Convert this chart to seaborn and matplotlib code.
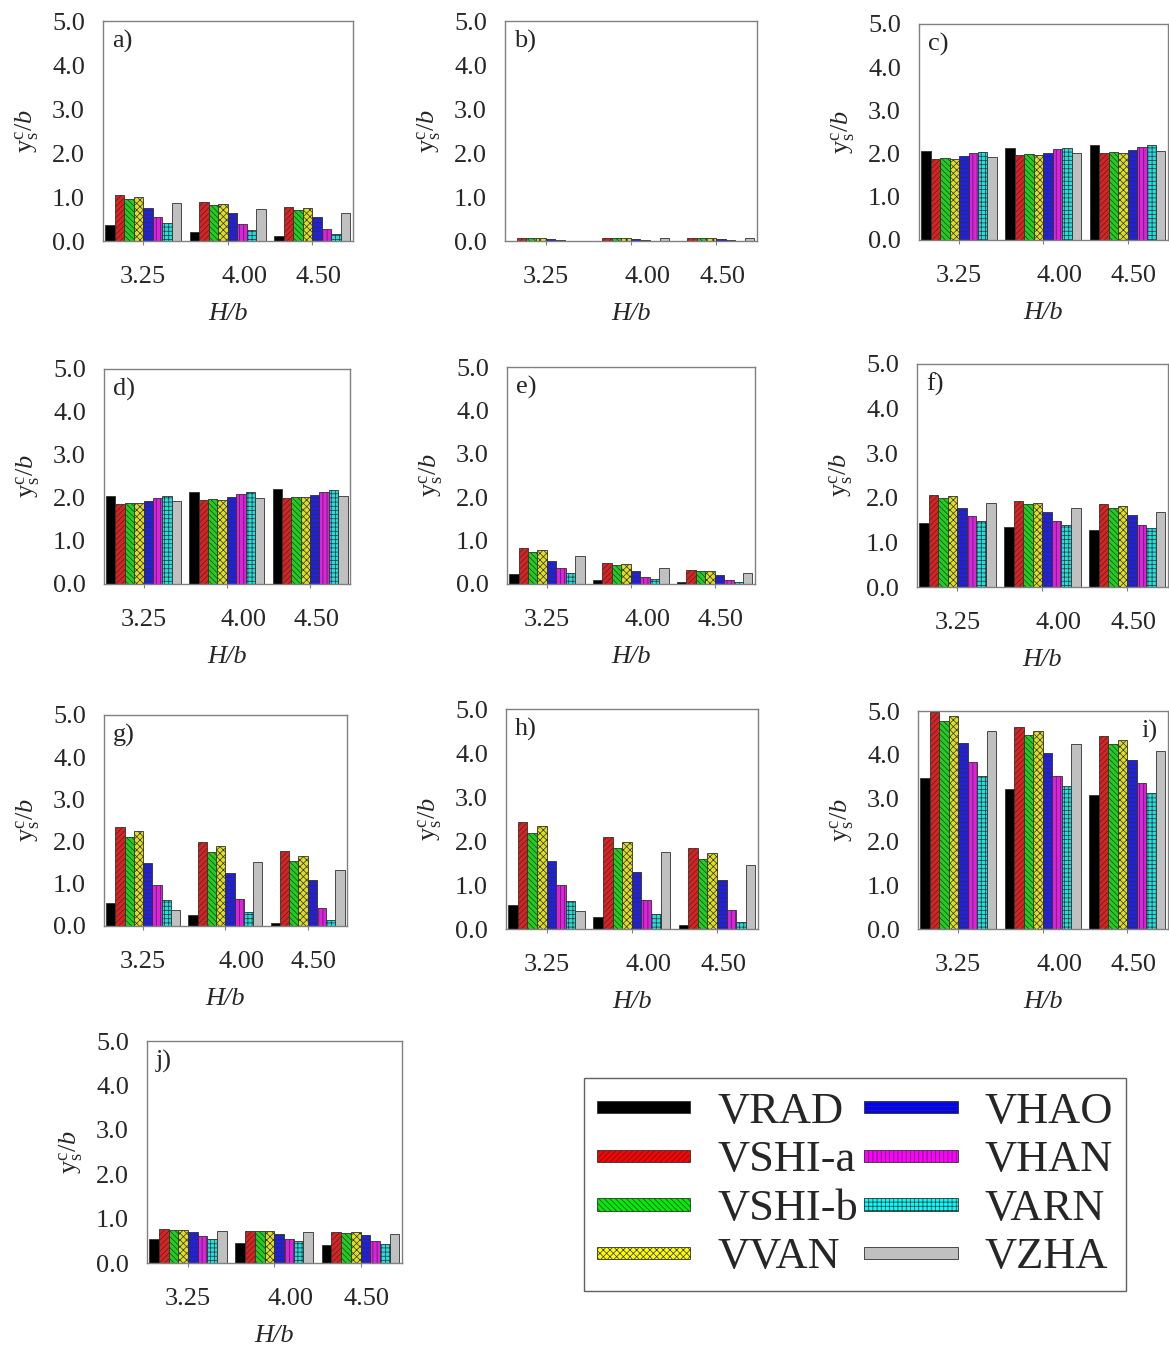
import numpy as np
import pandas as pd
import seaborn as sns
import matplotlib.pyplot as plt
import matplotlib.patches as mpatches
from matplotlib.transforms import ScaledTranslation
from matplotlib.legend_handler import HandlerPatch

# ---- data ----
h_labels = ["3.25", "4.00", "4.50"]
methods = ["VRAD", "VSHI-a", "VSHI-b", "VVAN", "VHAO", "VHAN", "VARN", "VZHA"]

# each row = one H/b group, columns follow the methods order
val_a = [[0.36, 1.04, 0.96, 1.00, 0.75, 0.55, 0.40, 0.87],
         [0.21, 0.88, 0.81, 0.85, 0.63, 0.38, 0.24, 0.72],
         [0.11, 0.78, 0.71, 0.75, 0.55, 0.27, 0.15, 0.64]]
val_b = [[0.01, 0.06, 0.06, 0.06, 0.04, 0.02, 0.01, 0.01],
         [0.01, 0.07, 0.06, 0.06, 0.04, 0.02, 0.01, 0.07],
         [0.01, 0.07, 0.06, 0.06, 0.04, 0.02, 0.01, 0.07]]
val_c = [[2.05, 1.87, 1.89, 1.88, 1.94, 2.01, 2.04, 1.91],
         [2.14, 1.96, 1.98, 1.97, 2.02, 2.11, 2.14, 2.01],
         [2.20, 2.01, 2.03, 2.01, 2.08, 2.15, 2.19, 2.05]]
val_d = [[2.05, 1.87, 1.89, 1.88, 1.94, 2.00, 2.04, 1.92],
         [2.14, 1.96, 1.98, 1.96, 2.03, 2.09, 2.14, 2.00],
         [2.20, 2.01, 2.03, 2.02, 2.07, 2.15, 2.18, 2.05]]
val_e = [[0.22, 0.82, 0.74, 0.78, 0.54, 0.36, 0.25, 0.64],
         [0.09, 0.48, 0.43, 0.45, 0.31, 0.17, 0.11, 0.38],
         [0.04, 0.32, 0.29, 0.31, 0.21, 0.10, 0.05, 0.25]]
val_f = [[1.44, 2.07, 1.99, 2.04, 1.78, 1.59, 1.47, 1.89],
         [1.34, 1.93, 1.86, 1.89, 1.68, 1.47, 1.38, 1.77],
         [1.28, 1.85, 1.77, 1.81, 1.62, 1.40, 1.32, 1.69]]
val_g = [[0.54, 2.35, 2.10, 2.24, 1.49, 0.96, 0.62, 0.39],
         [0.25, 2.00, 1.75, 1.90, 1.25, 0.63, 0.33, 1.52],
         [0.07, 1.77, 1.54, 1.67, 1.08, 0.42, 0.15, 1.33]]
val_h = [[0.55, 2.44, 2.18, 2.33, 1.55, 0.99, 0.64, 0.41],
         [0.27, 2.08, 1.83, 1.97, 1.30, 0.65, 0.34, 1.75],
         [0.08, 1.84, 1.60, 1.73, 1.12, 0.44, 0.15, 1.46]]
val_i = [[3.47, 4.98, 4.77, 4.89, 4.27, 3.82, 3.52, 4.54],
         [3.22, 4.63, 4.44, 4.55, 4.03, 3.52, 3.29, 4.25],
         [3.08, 4.42, 4.24, 4.34, 3.88, 3.34, 3.13, 4.09]]
val_j = [[0.54, 0.76, 0.74, 0.75, 0.69, 0.61, 0.55, 0.72],
         [0.46, 0.73, 0.71, 0.72, 0.65, 0.55, 0.49, 0.69],
         [0.41, 0.70, 0.68, 0.70, 0.62, 0.50, 0.43, 0.66]]

colors = ["#000000", "#ff0000", "#00ee00", "#ffff00",
          "#0000ff", "#ff00ff", "#00ffff", "#c0c0c0"]
hatches = ["", "//////", "\\\\\\\\\\\\", "xxxxx", "----", "||||", "++++", ""]

W, H = 1169, 1347

def rect(x0, x1, y0, y1):
    return [x0 / W, 1 - y1 / H, (x1 - x0) / W, (y1 - y0) / H]

# panel name, values, pixel box, label on the right?
panels = [
    ("a)", val_a, (103, 353, 21, 241), False),
    ("b)", val_b, (505, 757, 21, 241), False),
    ("c)", val_c, (919, 1168, 24, 240), False),
    ("d)", val_d, (104, 350, 369, 584), False),
    ("e)", val_e, (507, 755, 367, 584), False),
    ("f)", val_f, (917, 1168, 364, 587), False),
    ("g)", val_g, (104, 347, 715, 926), False),
    ("h)", val_h, (506, 758, 709, 929), False),
    ("i)", val_i, (918, 1168, 711, 929), True),
    ("j)", val_j, (147, 402, 1041, 1263), False),
]

sns.set_style("white")
plt.rcParams["font.family"] = ["Liberation Serif", "DejaVu Serif"]
plt.rcParams["mathtext.fontset"] = "custom"
plt.rcParams["mathtext.rm"] = "Liberation Serif"
plt.rcParams["mathtext.it"] = "Liberation Serif:italic"
plt.rcParams["hatch.linewidth"] = 0.5

fig = plt.figure(figsize=(W / 100, H / 100), dpi=100)

# the x tick labels sit a little right of the group centres in the original
lbl_shift = [0, 12, 4.5]
fs = 19

for name, vals, box, right in panels:
    ax = fig.add_axes(rect(*box))
    df = pd.DataFrame(vals, columns=methods)
    df["H"] = h_labels
    df = df.melt(id_vars="H", var_name="method", value_name="y")
    sns.barplot(data=df, x="H", y="y", hue="method", hue_order=methods,
                palette=colors, width=0.9, gap=0, edgecolor="#303030",
                linewidth=0.6, legend=False, ax=ax)
    for cont, hh in zip(ax.containers, hatches):
        for bar in cont:
            bar.set_hatch(hh)
    ax.set_ylim(0, 5)
    ax.set_xlim(-0.475, 2.48)
    ax.set_yticks(np.arange(0, 5.01, 1.0))
    ax.set_yticklabels([f"{t:.1f}" for t in np.arange(0, 5.01, 1.0)])
    ax.tick_params(axis="y", length=0, pad=13, labelsize=fs)
    ax.tick_params(axis="x", direction="out", length=3, width=0.8,
                   color="#808080", pad=15, labelsize=fs, bottom=True)
    for lab, dx in zip(ax.get_xticklabels(), lbl_shift):
        lab.set_transform(lab.get_transform() +
                          ScaledTranslation(dx / 72, 0, fig.dpi_scale_trans))
    ax.set_xlabel("H/b", fontsize=fs, style="italic", labelpad=11)
    ax.set_ylabel(r"$\mathrm{y}_\mathrm{s}^{\mathrm{c}}/b$", fontsize=fs, labelpad=8)
    for sp in ax.spines.values():
        sp.set_color("#808080")
        sp.set_linewidth(1.0)
    if right:
        ax.text(0.96, 0.96, name, transform=ax.transAxes, ha="right", va="top",
                fontsize=fs)
    else:
        ax.text(0.035, 0.96, name, transform=ax.transAxes, ha="left", va="top",
                fontsize=fs)


def thin_patch(legend, orig_handle, xdescent, ydescent, width, height, fontsize):
    return mpatches.Rectangle((-xdescent, -ydescent + height * 0.3),
                              width, height * 0.4)


handles = [mpatches.Patch(facecolor=c, edgecolor="#303030", hatch=hh, linewidth=0.6)
           for c, hh in zip(colors, hatches)]
leg = fig.legend(handles, methods, ncol=2, loc="center",
                 bbox_to_anchor=(582 / W, 1 - 1292 / H, 546 / W, 215 / H),
                 fontsize=32, frameon=True, fancybox=False, framealpha=1,
                 edgecolor="#606060", handlelength=2.1, handleheight=0.7,
                 handletextpad=0.6, columnspacing=0.15, labelspacing=0.19,
                 borderpad=0.3,
                 handler_map={mpatches.Patch: HandlerPatch(patch_func=thin_patch)})
leg.get_frame().set_linewidth(1.0)

fig.savefig("out.png", dpi=100)
